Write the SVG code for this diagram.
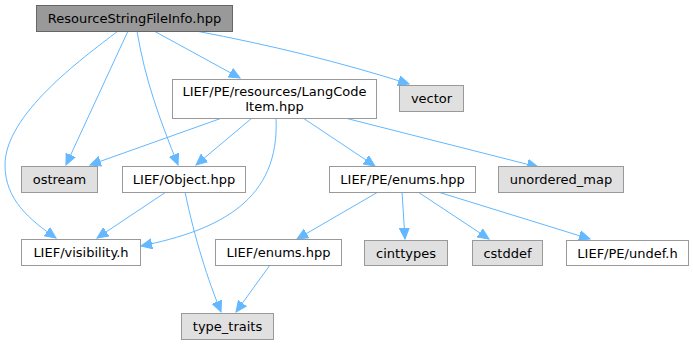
<svg xmlns="http://www.w3.org/2000/svg" width="693" height="344" viewBox="0 0 693 344">
  <style>
    .node rect { stroke-width: 1; }
    .root rect { fill: #999999; stroke: #666666; }
    .local rect { fill: #ffffff; stroke: #999999; }
    .sys rect { fill: #e0e0e0; stroke: #999999; }
    text { font-family: "DejaVu Sans", "Liberation Sans", sans-serif; font-size: 13px; fill: #000000; text-anchor: middle; }
    .edges path { fill: none; stroke: #63b8ff; stroke-width: 1; marker-end: url(#arrow); }
  </style>
  <defs>
    <marker id="arrow" markerUnits="userSpaceOnUse" markerWidth="12" markerHeight="11" viewBox="0 0 12 11" refX="11" refY="5.5" orient="auto">
      <path d="M0,0.5 L11,5.5 L0,10.5 Z" fill="#63b8ff" stroke="#63b8ff" stroke-width="1"/>
    </marker>
  </defs>

  <rect width="693" height="344" fill="#ffffff"/>

  <g class="edges" id="edges">
    <path d="M118,31 C80,60 5,115 5,165 C5,200 30,220 56,238"/>
    <path d="M128,31 L66,165"/>
    <path d="M137,31 C145,80 160,120 178,165"/>
    <path d="M154,31 L240,78"/>
    <path d="M196,31 C270,45 340,62 409,84"/>
    <path d="M222,118 L90,165"/>
    <path d="M252,118 L196,165"/>
    <path d="M276,118 C280,200 220,230 141,246"/>
    <path d="M303,118 L375,166"/>
    <path d="M345,118 L538,167"/>
    <path d="M166,192 L97,238"/>
    <path d="M185,192 C195,240 208,280 221,312"/>
    <path d="M378,192 L297,239"/>
    <path d="M402,192 L405,239"/>
    <path d="M418,192 L489,239"/>
    <path d="M438,192 L590,239"/>
    <path d="M270,265 L236,312"/>
  </g>

  <g id="node-root" class="node root">
    <rect x="36.5" y="5.5" width="196" height="26"/>
    <text x="134.5" y="23">ResourceStringFileInfo.hpp</text>
  </g>
  <g id="node-langcode" class="node local">
    <rect x="172.5" y="79.5" width="204" height="39"/>
    <text x="274.5" y="96">LIEF/PE/resources/LangCode</text>
    <text x="274.5" y="111">Item.hpp</text>
  </g>
  <g id="node-vector" class="node sys">
    <rect x="399.5" y="85.5" width="64" height="26"/>
    <text x="431.5" y="103">vector</text>
  </g>
  <g id="node-ostream" class="node sys">
    <rect x="21.5" y="166.5" width="76" height="26"/>
    <text x="59.5" y="184">ostream</text>
  </g>
  <g id="node-object" class="node local">
    <rect x="122.5" y="166.5" width="123" height="26"/>
    <text x="184" y="184">LIEF/Object.hpp</text>
  </g>
  <g id="node-pe-enums" class="node local">
    <rect x="329.5" y="166.5" width="146" height="26"/>
    <text x="402.5" y="184">LIEF/PE/enums.hpp</text>
  </g>
  <g id="node-unordered-map" class="node sys">
    <rect x="498.5" y="166.5" width="125" height="26"/>
    <text x="561" y="184">unordered_map</text>
  </g>
  <g id="node-visibility" class="node local">
    <rect x="21.5" y="239.5" width="119" height="26"/>
    <text x="81" y="257">LIEF/visibility.h</text>
  </g>
  <g id="node-enums" class="node local">
    <rect x="215.5" y="239.5" width="126" height="26"/>
    <text x="278.5" y="257">LIEF/enums.hpp</text>
  </g>
  <g id="node-cinttypes" class="node sys">
    <rect x="364.5" y="240.5" width="83" height="25"/>
    <text x="406" y="257.5">cinttypes</text>
  </g>
  <g id="node-cstddef" class="node sys">
    <rect x="472.5" y="240.5" width="70" height="25"/>
    <text x="507.5" y="257.5">cstddef</text>
  </g>
  <g id="node-undef" class="node local">
    <rect x="566.5" y="240.5" width="122" height="25"/>
    <text x="627.5" y="257.5">LIEF/PE/undef.h</text>
  </g>
  <g id="node-type-traits" class="node sys">
    <rect x="181.5" y="313.5" width="92" height="26"/>
    <text x="227.5" y="331">type_traits</text>
  </g>
</svg>
